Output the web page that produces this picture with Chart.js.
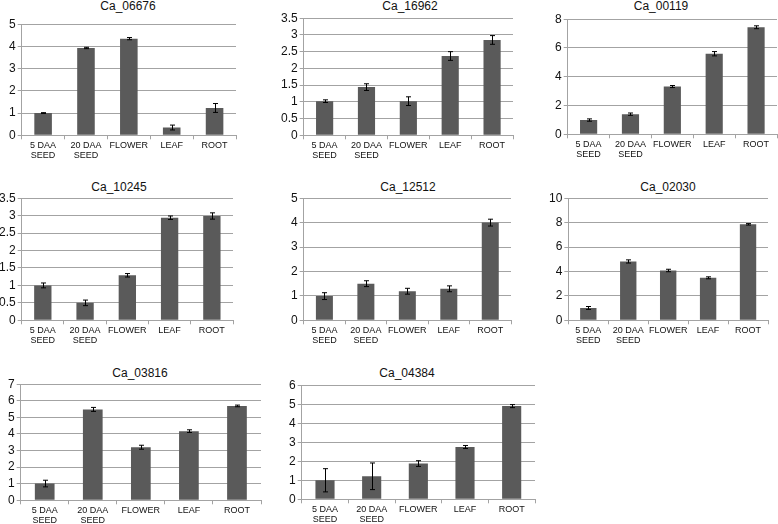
<!DOCTYPE html>
<html>
<head>
<meta charset="utf-8">
<script src="https://cdn.jsdelivr.net/npm/chart.js@4"></script>
<style>
  html, body { margin:0; padding:0; background:#fff; width:778px; height:524px; overflow:hidden; }
  .wrap { position:absolute; }
  .title { position:absolute; font-family:"Liberation Sans", Arial, sans-serif; font-size:12px; color:#111; transform:translate(-50%,-50%); white-space:nowrap; }
</style>
</head>
<body>
<script>
// ---- data ----
const categories = [['5 DAA','SEED'], ['20 DAA','SEED'], 'FLOWER', 'LEAF', 'ROOT'];
const genes = ['Ca_06676','Ca_16962','Ca_00119','Ca_10245','Ca_12512','Ca_02030','Ca_03816','Ca_04384'];

const ca06676 = [1.00, 3.93, 4.35, 0.35, 1.23];
const ca06676Err = [0.02, 0.03, 0.05, 0.11, 0.20];
const ca16962 = [1.02, 1.44, 1.02, 2.37, 2.85];
const ca16962Err = [0.04, 0.10, 0.13, 0.13, 0.13];
const ca00119 = [0.99, 1.40, 3.32, 5.60, 7.44];
const ca00119Err = [0.08, 0.08, 0.07, 0.15, 0.10];
const ca10245 = [1.00, 0.50, 1.29, 2.94, 2.99];
const ca10245Err = [0.07, 0.08, 0.05, 0.05, 0.09];
const ca12512 = [0.99, 1.50, 1.19, 1.29, 4.00];
const ca12512Err = [0.14, 0.12, 0.12, 0.12, 0.14];
const ca02030 = [1.01, 4.82, 4.08, 3.48, 7.86];
const ca02030Err = [0.12, 0.13, 0.10, 0.08, 0.06];
const ca03816 = [1.01, 5.48, 3.20, 4.17, 5.69];
const ca03816Err = [0.20, 0.12, 0.12, 0.08, 0.05];
const ca04384 = [1.00, 1.21, 1.88, 2.75, 4.90];
const ca04384Err = [0.61, 0.70, 0.15, 0.08, 0.08];

const seriesValues = [ca06676, ca16962, ca00119, ca10245, ca12512, ca02030, ca03816, ca04384];
const seriesErrors = [ca06676Err, ca16962Err, ca00119Err, ca10245Err, ca12512Err, ca02030Err, ca03816Err, ca04384Err];
const yMax  = [5, 3.5, 8, 3.5, 5, 10, 7, 6];
const yStep = [1, 0.5, 2, 0.5, 1, 2, 1, 1];

// ---- layout (plot areas) ----
const areas = [
  {L:22,  T:24,  R:236, B:135, tx:128, ty:6},
  {L:304, T:18,  R:513, B:135, tx:410, ty:6},
  {L:568, T:19,  R:777, B:134, tx:661, ty:6},
  {L:22,  T:198, R:233, B:320, tx:119, ty:187},
  {L:304, T:198, R:511, B:320, tx:408, ty:187},
  {L:568, T:198, R:768, B:320, tx:668, ty:187},
  {L:21,  T:384, R:261, B:500, tx:140, ty:373},
  {L:302, T:385, R:535, B:499, tx:407, ty:373}
];

const FONT = '"Liberation Sans", Arial, sans-serif';
const GRID = '#a3a3a3';
const BAR = '#5a5a5a';

const errorBarPlugin = {
  id: 'errorBars',
  afterDatasetsDraw(chart) {
    const errs = chart.options.plugins.errorBars.errors;
    const meta = chart.getDatasetMeta(0);
    const ys = chart.scales.y;
    const vals = chart.data.datasets[0].data;
    const ctx = chart.ctx;
    ctx.save();
    ctx.strokeStyle = '#000';
    ctx.lineWidth = 1;
    meta.data.forEach((el, i) => {
      const x = Math.round(el.x) + 0.5;
      const yTop = ys.getPixelForValue(vals[i] + errs[i]);
      const yBot = ys.getPixelForValue(vals[i] - errs[i]);
      ctx.beginPath();
      ctx.moveTo(x, yTop); ctx.lineTo(x, yBot);
      ctx.moveTo(x - 2.5, yTop); ctx.lineTo(x + 2.5, yTop);
      ctx.moveTo(x - 2.5, yBot); ctx.lineTo(x + 2.5, yBot);
      ctx.stroke();
    });
    ctx.restore();
  }
};

genes.forEach((g, k) => {
  const a = areas[k];
  const t = document.createElement('div');
  t.className = 'title';
  t.textContent = g;
  t.style.left = a.tx + 'px';
  t.style.top = a.ty + 'px';
  document.body.appendChild(t);

  const wrap = document.createElement('div');
  wrap.className = 'wrap';
  wrap.style.width = (a.R - a.L + 40) + 'px';
  wrap.style.height = (a.B - a.T + 40) + 'px';
  wrap.style.left = '0px';
  wrap.style.top = '0px';
  const cv = document.createElement('canvas');
  wrap.appendChild(cv);
  document.body.appendChild(wrap);

  const chart = new Chart(cv, {
    type: 'bar',
    data: {
      labels: categories,
      datasets: [{
        data: seriesValues[k],
        backgroundColor: BAR,
        borderWidth: 0,
        categoryPercentage: 1,
        barPercentage: 0.41
      }]
    },
    options: {
      responsive: true,
      maintainAspectRatio: false,
      animation: false,
      events: [],
      layout: { padding: {top: 8, right: 2, left: 0, bottom: 0} },
      plugins: {
        legend: { display: false },
        tooltip: { enabled: false },
        title: { display: false },
        errorBars: { errors: seriesErrors[k] }
      },
      scales: {
        x: {
          offset: true,
          grid: { display: true, drawOnChartArea: false, offset: true, color: GRID, tickLength: 4, tickWidth: 1 },
          border: { display: true, color: GRID, width: 1 },
          ticks: { color: '#111', font: { family: FONT, size: 9, lineHeight: 1.15 }, padding: 1, maxRotation: 0, autoSkip: false }
        },
        y: {
          min: 0, max: yMax[k],
          grid: { color: GRID, tickLength: 4, lineWidth: 1 },
          border: { display: true, color: GRID, width: 1 },
          ticks: {
            stepSize: yStep[k], autoSkip: false, color: '#111',
            font: { family: FONT, size: 12 }, padding: 2,
            callback: v => String(+Number(v).toFixed(2))
          }
        }
      }
    },
    plugins: [errorBarPlugin]
  });

  // fit plot area to target rectangle
  for (let it = 0; it < 3; it++) {
    const ca = chart.chartArea;
    const w = wrap.clientWidth + ((a.R - a.L) - (ca.right - ca.left));
    const h = wrap.clientHeight + ((a.B - a.T) - (ca.bottom - ca.top));
    wrap.style.width = Math.round(w) + 'px';
    wrap.style.height = Math.round(h) + 'px';
    chart.resize();
  }
  const ca = chart.chartArea;
  wrap.style.left = Math.round(a.L - ca.left) + 'px';
  wrap.style.top = Math.round(a.T - ca.top) + 'px';
});
</script>
</body>
</html>
